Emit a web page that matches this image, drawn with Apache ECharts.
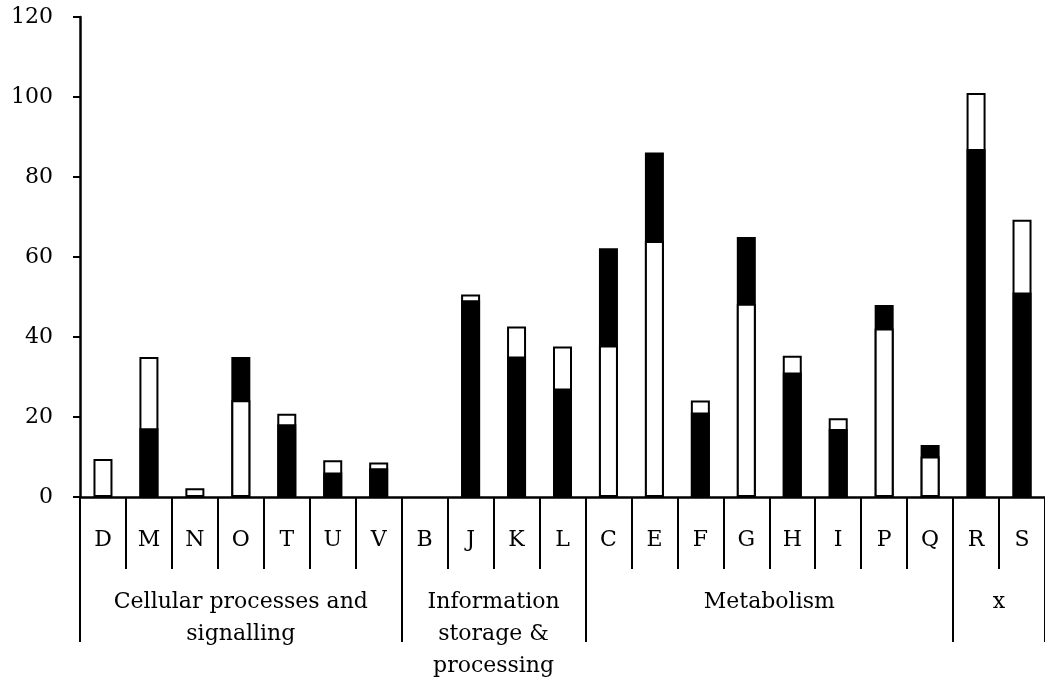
<!DOCTYPE html>
<html>
<head>
<meta charset="utf-8">
<title>COG categories</title>
<script src="https://cdn.jsdelivr.net/npm/echarts@6/dist/echarts.min.js"></script>
<style>
  html, body { margin: 0; padding: 0; background: #fff; }
  #chart { width: 1045px; height: 682px; }
</style>
</head>
<body>
<div id="chart"></div>
<script>
// Functional categories (one bar per letter)
const categories = ['D','M','N','O','T','U','V','B','J','K','L','C','E','F','G','H','I','P','Q','R','S'];
// Open-bar counts
const whiteValues = [9.5, 35, 2.2, 24.2, 20.8, 9.2, 8.6, 0, 50.6, 42.6, 37.6, 37.9, 64, 24.1, 48.3, 35.3, 19.7, 42.1, 10.1, 101, 69.3];
// Filled-bar counts
const blackValues = [0, 17.2, 0, 35, 18.2, 6.1, 7.2, 0, 49.2, 35.1, 27.1, 62.2, 86.1, 21.1, 65, 31.1, 17, 48, 13, 87, 51.1];
// Category groups, in order, with the number of letters in each
const groupNames = ['Cellular processes and\nsignalling', 'Information\nstorage &\nprocessing', 'Metabolism', 'x'];
const groupSizes = [7, 4, 8, 2];
// Value-axis ticks
const yMin = 0, yMax = 120, yStep = 20;

const FONT = 'DejaVu Serif';
const FONT_SIZE = 22;
const WHITE = '#ffffff', BLACK = '#000000';

// The taller of the two values is drawn behind, the shorter in front of it.
const backData = [], frontData = [];
categories.forEach((c, i) => {
  const w = whiteValues[i], b = blackValues[i];
  const tall = Math.max(w, b), short = Math.min(w, b);
  const tallColor = w >= b ? WHITE : BLACK;
  const shortColor = w >= b ? BLACK : WHITE;
  backData.push(tall > 0 ? { value: tall, itemStyle: { color: tallColor } } : '-');
  frontData.push(short > 0 ? { value: short, itemStyle: { color: shortColor } } : '-');
});

// Group axis in half-category steps: boundaries get long ticks, centres get names
const halfSlots = categories.length * 2 + 1;
const groupAxisData = new Array(halfSlots).fill('');
const groupBoundaries = new Set([0]);
let pos = 0;
groupNames.forEach((name, g) => {
  const start = pos * 2;
  const end = (pos + groupSizes[g]) * 2;
  groupAxisData[(start + end) / 2] = name;
  groupBoundaries.add(end);
  pos += groupSizes[g];
});

const chart = echarts.init(document.getElementById('chart'), null, { renderer: 'canvas' });
chart.setOption({
  animation: false,
  backgroundColor: '#fff',
  grid: { left: 80, right: 0, top: 17, bottom: 185 },
  xAxis: [
    {
      type: 'category',
      data: categories,
      position: 'bottom',
      axisLine: { show: true, lineStyle: { color: BLACK, width: 2.5 } },
      axisTick: { show: true, interval: 0, length: 72, lineStyle: { color: BLACK, width: 2 } },
      axisLabel: { interval: 0, margin: 31, color: BLACK, fontFamily: FONT, fontSize: FONT_SIZE, lineHeight: 24 }
    },
    {
      type: 'category',
      data: groupAxisData,
      position: 'bottom',
      boundaryGap: false,
      axisLine: { show: false },
      axisTick: {
        show: true, length: 145,
        interval: (idx) => groupBoundaries.has(idx),
        lineStyle: { color: BLACK, width: 2 }
      },
      axisLabel: {
        margin: 89, color: BLACK, fontFamily: FONT, fontSize: FONT_SIZE, lineHeight: 32,
        interval: (idx, val) => val !== '',
        align: 'center'
      }
    }
  ],
  yAxis: {
    type: 'value',
    min: yMin, max: yMax, interval: yStep,
    axisLine: { show: true, lineStyle: { color: BLACK, width: 2.5 } },
    axisTick: { show: true, length: 7, lineStyle: { color: BLACK, width: 2 } },
    splitLine: { show: false },
    axisLabel: { margin: 27, color: BLACK, fontFamily: FONT, fontSize: FONT_SIZE }
  },
  series: [
    {
      name: 'back', type: 'bar', xAxisIndex: 0, data: backData,
      barWidth: 19, barGap: '-100%',
      itemStyle: { borderColor: BLACK, borderWidth: 2 }
    },
    {
      name: 'front', type: 'bar', xAxisIndex: 0, data: frontData,
      barWidth: 19, barGap: '-100%',
      itemStyle: { borderColor: BLACK, borderWidth: 2 }
    }
  ]
});
</script>
</body>
</html>
